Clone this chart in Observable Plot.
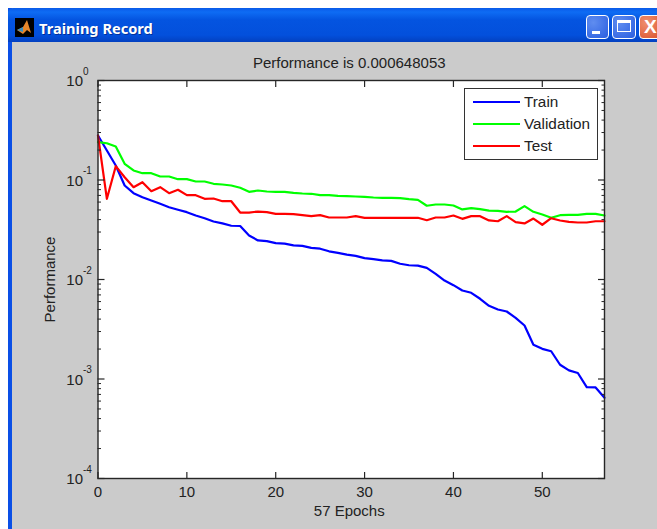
<!DOCTYPE html>
<html><head><meta charset="utf-8">
<script src="https://cdn.jsdelivr.net/npm/d3@7"></script>
<script src="https://cdn.jsdelivr.net/npm/@observablehq/plot@0.6"></script>
<style>
html,body{margin:0;padding:0;background:#fff;width:657px;height:529px;overflow:hidden}
#win{position:absolute;left:8px;top:8px;right:0;bottom:0;background:#cbcbcb;border-left:4px solid #0a4fe6;box-sizing:border-box}
#bar{position:absolute;left:8px;top:8px;width:649px;height:34px;background:linear-gradient(#0a5ae8 0,#0e6cf4 12%,#0454e0 35%,#0350dc 80%,#0340c0 100%);border-radius:5px 0 0 0}
#ttl{position:absolute;left:39px;top:18px;color:#fff;font:bold 14.6px "Noto Sans",sans-serif;text-shadow:1px 1px 0 #02309a;white-space:nowrap}
.btn{position:absolute;top:15px;height:24px;box-sizing:border-box;border:1px solid #fff;border-radius:4px;background:radial-gradient(circle at 30% 30%,#5f8df0,#2a5ee0)}
#plot{position:absolute;left:0;top:0}
#legend{position:absolute;left:464px;top:88px;width:134px;height:72px;box-sizing:border-box;background:#fff;border:1px solid #333;font:15.3px "Liberation Sans",sans-serif;color:#222}
#legend i{position:absolute;left:8px;width:47px;height:2px}
#legend span{position:absolute;left:59px;line-height:16px}
</style></head><body>
<div id="win"></div><div id="bar"></div>
<svg style="position:absolute;left:15px;top:18px" width="19" height="19" viewBox="0 0 19 19"><rect width="19" height="19" fill="#000"/><polygon points="2,12 8,9 12,2 16,15 12,12 8,16" fill="#e8872a"/><polygon points="2,12 8,9 8,14" fill="#3a8fc0"/></svg>
<div id="ttl">Training Record</div>
<div class="btn" style="left:586px;width:23px"><div style="position:absolute;left:5px;top:15px;width:8px;height:3px;background:#fff"></div></div>
<div class="btn" style="left:612px;width:24px"><div style="position:absolute;left:4px;top:4px;width:14px;height:12px;border:1px solid #fff;border-top-width:3px;box-sizing:border-box"></div></div>
<div class="btn" style="left:639px;width:24px;background:radial-gradient(circle at 30% 30%,#f09070,#d8502a);color:#fff;font:bold 19px/22px 'Liberation Sans',sans-serif;padding-left:4px">X</div>
<div id="plot"></div>
<div id="legend"></div>
<script>
const train = [0.280,0.198,0.140,0.088,0.0737,0.0671,0.0622,0.0577,0.0533,0.0502,0.0475,0.0440,0.0413,0.0383,0.0366,0.0347,0.0345,0.0277,0.0247,0.0243,0.0232,0.0229,0.0220,0.0218,0.0208,0.0204,0.0192,0.0185,0.0178,0.0173,0.0164,0.0160,0.0156,0.0154,0.0144,0.0139,0.0138,0.0131,0.0114,0.00977,0.00877,0.00775,0.00735,0.00640,0.00544,0.00500,0.00477,0.00412,0.00345,0.00221,0.00201,0.00190,0.00139,0.00122,0.00115,0.000828,0.000822,0.000648];
const validation = [0.240,0.234,0.217,0.1455,0.1246,0.117,0.117,0.1084,0.1084,0.1019,0.1019,0.0966,0.0966,0.0916,0.0901,0.0881,0.0835,0.0761,0.0784,0.0766,0.0761,0.0761,0.0743,0.0732,0.0727,0.0704,0.0704,0.0694,0.0688,0.0683,0.0678,0.0667,0.0662,0.0662,0.0656,0.0641,0.0632,0.0551,0.0567,0.0567,0.0554,0.0506,0.0521,0.0509,0.0493,0.0490,0.0479,0.0482,0.0546,0.0479,0.0450,0.0417,0.0443,0.0447,0.0447,0.0457,0.0457,0.0440];
const test = [0.280,0.0647,0.1377,0.1067,0.0847,0.0951,0.0771,0.0847,0.0737,0.0797,0.0704,0.0704,0.0647,0.0652,0.0612,0.0612,0.0471,0.0471,0.0482,0.0475,0.0457,0.0457,0.0453,0.0443,0.0433,0.0443,0.0420,0.0420,0.0420,0.0433,0.0417,0.0417,0.0417,0.0417,0.0417,0.0417,0.0417,0.0394,0.0420,0.0420,0.0440,0.0407,0.0433,0.0433,0.0392,0.0385,0.0433,0.0377,0.0366,0.0410,0.0355,0.0413,0.0392,0.0380,0.0374,0.0374,0.0385,0.0385];
const seriesNames = ["Train","Validation","Test"];
const seriesColors = ["#0000ff","#00ff00","#ff0000"];
const xTicks = [0,10,20,30,40,50];
const decades = [1,0.1,0.01,0.001,0.0001];
const exponents = ["0","-1","-2","-3","-4"];
const minorTicks = [2,3,4,5,6,7,8,9].flatMap(m => [0.1,0.01,0.001,0.0001].map(d => m*d));
const rows = [train,validation,test];
const axisColor = "#262626";
const chart = Plot.plot({
  width:657, height:529, marginLeft:97.5, marginRight:53, marginTop:80, marginBottom:51,
  style:{background:"transparent",fontFamily:"Liberation Sans, sans-serif",fontSize:"15px",color:"#222"},
  x:{domain:[0,57],axis:null},
  y:{type:"log",domain:[0.0001,1],axis:null},
  marks:[
    Plot.frame({fill:"#fff",stroke:null}),
    ...rows.map((r,k)=>Plot.line(r.map((v,i)=>[i,v]),{x:"0",y:"1",stroke:seriesColors[k],strokeWidth:2.2})),
    Plot.frame({stroke:axisColor,strokeWidth:1.4}),
    Plot.axisX(xTicks,{anchor:"bottom",label:null,tickSize:-6,tickPadding:14,stroke:axisColor,strokeWidth:1.2,fontSize:15,tickFormat:d=>String(d)}),
    Plot.axisX(xTicks,{anchor:"top",label:null,tickSize:-6,stroke:axisColor,strokeWidth:1.2,tickFormat:null,text:null}),
    Plot.axisY(decades,{anchor:"left",label:null,tickSize:-7,stroke:axisColor,strokeWidth:1.2,tickFormat:null,text:null}),
    Plot.axisY(decades,{anchor:"right",label:null,tickSize:-7,stroke:axisColor,strokeWidth:1.2,tickFormat:null,text:null}),
    Plot.axisY(minorTicks,{anchor:"left",label:null,tickSize:-3.5,stroke:axisColor,tickFormat:null,text:null}),
    Plot.axisY(minorTicks,{anchor:"right",label:null,tickSize:-3.5,stroke:axisColor,tickFormat:null,text:null}),
    Plot.text(decades,{y:d=>d,frameAnchor:"left",text:()=>"10",textAnchor:"end",dx:-15,dy:1,fontSize:15,fill:"#222"}),
    Plot.text(decades,{y:d=>d,frameAnchor:"left",text:(d,i)=>exponents[i],textAnchor:"start",dx:-15,dy:-9,fontSize:10,fill:"#222"}),
    Plot.text(["Performance is 0.000648053"],{frameAnchor:"top",dx:-2,dy:-13,text:d=>d,fontSize:15,fill:"#222",lineAnchor:"bottom"}),
    Plot.text(["57 Epochs"],{frameAnchor:"bottom",dx:-2,dy:33,text:d=>d,fontSize:15,fill:"#222",lineAnchor:"middle"}),
    Plot.text(["Performance"],{frameAnchor:"left",dx:-48,rotate:-90,textAnchor:"middle",text:d=>d,fontSize:15,fill:"#222"})
  ]
});
document.getElementById("plot").append(chart);
const lg = document.getElementById("legend");
seriesNames.forEach((n,k)=>{
  const l=document.createElement("i");l.style.background=seriesColors[k];l.style.top=(12+22*k)+"px";lg.append(l);
  const s=document.createElement("span");s.textContent=n;s.style.top=(5+22*k)+"px";lg.append(s);
});
</script>
</body></html>
